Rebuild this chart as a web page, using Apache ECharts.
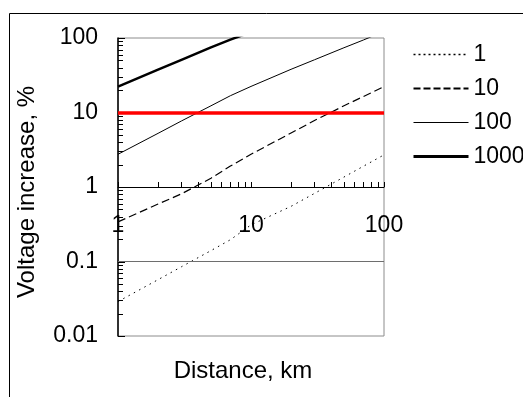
<!DOCTYPE html>
<html>
<head>
<meta charset="utf-8">
<script src="https://cdn.jsdelivr.net/npm/echarts@6/dist/echarts.min.js"></script>
<style>
  html, body { margin: 0; padding: 0; background: #fff; }
</style>
</head>
<body>
<div id="chart" style="width: 523px;height: 397px;"></div>
<script>
// distance, km
const distances = [1, 2, 3, 5, 7, 10, 20, 30, 50, 70, 100]
// voltage increase, %
const rise1 = [0.029, 0.057, 0.085, 0.14, 0.196, 0.31, 0.55, 0.82, 1.36, 1.9, 2.7]
const rise10 = [0.34, 0.59, 0.81, 1.31, 1.91, 2.75, 5.3, 7.8, 12.3, 16.4, 22.2]
const rise100 = [2.75, 5.25, 7.7, 12.3, 16.8, 22.4, 38, 51, 74, 94, 123]
const rise1000 = [22.2, 37.6, 51, 75, 95, 120]
const seriesNames = ['1', '10', '100', '1000']
const limitLevel = 10
const refLevel = 0.1
// log ticks: decades and 2..9 of each decade
const xMinorTicks = [2, 3, 4, 5, 6, 7, 8, 9, 20, 30, 40, 50, 60, 70, 80, 90]
const yMajorTicks = [0.01, 0.1, 1, 10, 100]
const yMinorTicks = [0.02, 0.03, 0.04, 0.05, 0.06, 0.07, 0.08, 0.09,
  0.2, 0.3, 0.4, 0.5, 0.6, 0.7, 0.8, 0.9,
  2, 3, 4, 5, 6, 7, 8, 9,
  20, 30, 40, 50, 60, 70, 80, 90]

const pairs = (ys) => ys.map((y, i) => [distances[i], y])

let myChart = echarts.init(document.getElementById('chart'))
const font = 'Liberation Sans'

// short tick drawn at a data point, dx/dy in pixels
function tickRenderer (dx, dy) {
  return function (params, api) {
    const p = api.coord([api.value(0), api.value(1)])
    const x = dx ? p[0] : Math.round(p[0]) + 0.5
    const y = dy ? p[1] : Math.round(p[1]) + 0.5
    return {
      type: 'line',
      shape: { x1: x, y1: y, x2: x + dx, y2: y + dy },
      style: { stroke: '#000', lineWidth: 1 }
    }
  }
}

var option = {
  animation: false,
  textStyle: { fontFamily: font },
  grid: {
    left: 118,
    top: 38,
    right: 139,
    bottom: 61,
    show: true,
    borderColor: '#8c8c8c',
    borderWidth: 1
  },
  legend: {
    orient: 'vertical',
    left: 407,
    top: 38,
    itemWidth: 55,
    itemHeight: 14,
    itemGap: 11,
    itemStyle: { opacity: 0 },
    textStyle: { fontSize: 23, color: '#000', fontFamily: font, lineHeight: 22 },
    data: [
      { name: '1', lineStyle: { width: 1.5, type: [2, 3] } },
      { name: '10', lineStyle: { width: 2, type: [7, 3] } },
      { name: '100', lineStyle: { width: 1 } },
      { name: '1000', lineStyle: { width: 3 } }
    ]
  },
  xAxis: {
    type: 'log',
    logBase: 10,
    min: 1,
    max: 100,
    offset: -149,
    axisLine: { lineStyle: { color: '#000', width: 1 } },
    axisTick: { inside: true, length: 5, lineStyle: { color: '#000' } },
    axisLabel: { fontSize: 23, color: '#000', margin: 27, formatter: (v) => String(v) },
    splitLine: { show: false }
  },
  yAxis: {
    type: 'log',
    logBase: 10,
    min: 0.01,
    max: 100,
    axisLine: { show: true, lineStyle: { color: '#000', width: 1.5 } },
    axisTick: { show: false },
    axisLabel: { fontSize: 23, color: '#000', margin: 20, formatter: (v) => String(v) },
    splitLine: { show: false }
  },
  series: [
    {
      name: seriesNames[0],
      type: 'line',
      data: pairs(rise1),
      symbol: 'none',
      lineStyle: { color: '#000', width: 1, type: [1.5, 4.5] },
      markLine: {
        silent: true,
        symbol: 'none',
        label: { show: false },
        data: [
          { yAxis: refLevel, lineStyle: { color: '#6e6e6e', width: 1, type: 'solid' } },
          { yAxis: limitLevel, lineStyle: { color: '#ff0000', width: 3.5, type: 'solid' } }
        ]
      }
    },
    {
      name: seriesNames[1],
      type: 'line',
      data: pairs(rise10),
      symbol: 'none',
      lineStyle: { color: '#000', width: 1.2, type: [8, 4] }
    },
    {
      name: seriesNames[2],
      type: 'line',
      data: pairs(rise100),
      symbol: 'none',
      lineStyle: { color: '#000', width: 1 }
    },
    {
      name: seriesNames[3],
      type: 'line',
      data: pairs(rise1000),
      symbol: 'none',
      lineStyle: { color: '#000', width: 2.5 }
    },
    {
      name: 'xMinor',
      type: 'custom',
      silent: true,
      renderItem: tickRenderer(0, -5),
      data: xMinorTicks.map(v => [v, 1])
    },
    {
      name: 'yMinor',
      type: 'custom',
      silent: true,
      renderItem: tickRenderer(5, 0),
      data: yMinorTicks.map(v => [1, v])
    },
    {
      name: 'yMajor',
      type: 'custom',
      silent: true,
      renderItem: tickRenderer(7, 0),
      data: yMajorTicks.map(v => [1, v])
    }
  ],
  graphic: [
    {
      type: 'rect',
      left: 7,
      top: 11,
      shape: { width: 600, height: 500 },
      style: { fill: 'none', stroke: '#000', lineWidth: 1 },
      silent: true,
      z: -1
    },
    {
      type: 'text',
      x: 243,
      y: 371,
      style: { text: 'Distance, km', font: '24px "Liberation Sans"', fill: '#000', align: 'center', verticalAlign: 'middle' }
    },
    {
      type: 'text',
      x: 27,
      y: 192,
      rotation: Math.PI / 2,
      style: { text: 'Voltage increase, %', font: '24px "Liberation Sans"', fill: '#000', align: 'center', verticalAlign: 'middle' }
    }
  ]
}

myChart.setOption(option, true)
</script>
</body>
</html>
